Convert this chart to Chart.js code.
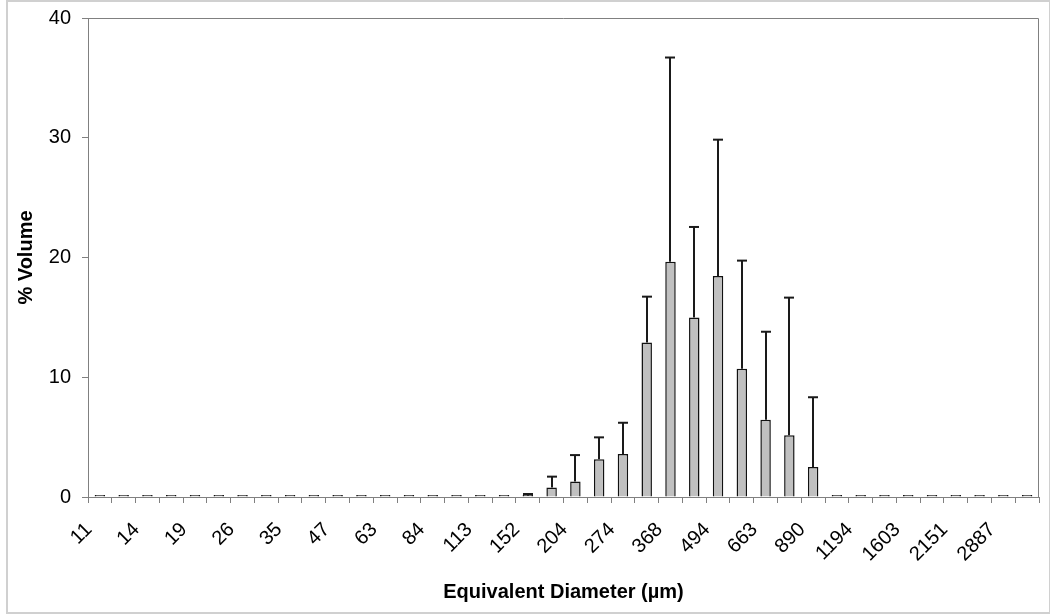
<!DOCTYPE html>
<html>
<head>
<meta charset="utf-8">
<script src="https://cdn.jsdelivr.net/npm/chart.js@4"></script>
<style>
  html, body { margin: 0; padding: 0; background: #fff; }
  #wrap { position: relative; width: 1050px; height: 615px; }
  #frame { position: absolute; left: 6px; top: 0; width: 1041px; height: 610px; border: 2px solid #d0d0d0; }
  canvas { position: absolute; left: 0; top: 0; }
</style>
</head>
<body>
<div id="wrap">
  <div id="frame"></div>
  <canvas id="sizeChart" width="1050" height="615"></canvas>
</div>
<script>
// size classes (µm) - only every other one is labelled on the axis
const diameters = ["11", "12", "14", "16", "19", "22", "26", "30", "35", "41",
  "47", "54", "63", "73", "84", "97", "113", "131", "152", "176",
  "204", "236", "274", "318", "368", "426", "494", "572", "663", "768",
  "890", "1031", "1194", "1383", "1603", "1857", "2151", "2492", "2887", "3343"];

// mean % volume per class
const volume = [0, 0, 0, 0, 0, 0, 0, 0, 0, 0,
  0, 0, 0, 0, 0, 0, 0, 0, 0.1, 0.8,
  1.3, 3.15, 3.6, 12.9, 19.65, 15.0, 18.45, 10.7, 6.45, 5.15,
  2.5, 0, 0, 0, 0, 0, 0, 0, 0, 0];

// upper error (std dev)
const volumeErr = [0, 0, 0, 0, 0, 0, 0, 0, 0, 0,
  0, 0, 0, 0, 0, 0, 0, 0, 0.15, 0.9,
  2.2, 1.83, 2.6, 3.83, 17.05, 7.55, 11.39, 9.04, 7.35, 11.5,
  5.83, 0, 0, 0, 0, 0, 0, 0, 0, 0];

const yTicks = [0, 10, 20, 30, 40];

const FONT = "'Liberation Sans', Arial, sans-serif";
const AXIS_GREY = "#808080";

// draws the top / right border of the plot area
const plotBorder = {
  id: "plotBorder",
  beforeDatasetsDraw(chart) {
    const { ctx, chartArea } = chart;
    ctx.save();
    ctx.strokeStyle = AXIS_GREY;
    ctx.lineWidth = 1;
    ctx.beginPath();
    ctx.moveTo(chartArea.left, chartArea.top + 0.5);
    ctx.lineTo(chartArea.right - 0.5, chartArea.top + 0.5);
    ctx.lineTo(chartArea.right - 0.5, chartArea.bottom);
    ctx.stroke();
    ctx.restore();
  },
};

// upper error bars with caps
const errorBars = {
  id: "errorBars",
  afterDatasetsDraw(chart) {
    const { ctx } = chart;
    const yScale = chart.scales.y;
    const meta = chart.getDatasetMeta(0);
    ctx.save();
    ctx.strokeStyle = "#1a1a1a";
    meta.data.forEach((bar, i) => {
      const v = volume[i];
      const e = volumeErr[i];
      if (!e) return;
      const x = Math.round(bar.x);
      const yTop = yScale.getPixelForValue(v);
      const yErr = yScale.getPixelForValue(v + e);
      ctx.lineWidth = 2;
      ctx.beginPath();
      ctx.moveTo(x, yTop);
      ctx.lineTo(x, yErr);
      ctx.stroke();
      ctx.beginPath();
      ctx.moveTo(x - 5, yErr);
      ctx.lineTo(x + 5, yErr);
      ctx.stroke();
    });
    ctx.restore();
  },
};

const ctx = document.getElementById("sizeChart").getContext("2d");
new Chart(ctx, {
  type: "bar",
  data: {
    labels: diameters,
    datasets: [
      {
        label: "% Volume",
        data: volume,
        backgroundColor: "#c0c0c0",
        borderColor: "#111",
        borderWidth: 1.5,
        barPercentage: 0.44,
        categoryPercentage: 1.0,
        minBarLength: 2,
      },
    ],
  },
  options: {
    responsive: false,
    animation: false,
    layout: { padding: { left: 0, top: 18, right: 11, bottom: 0 } },
    plugins: {
      legend: { display: false },
      tooltip: { enabled: false },
    },
    scales: {
      x: {
        afterFit(scale) {
          scale.height = 118;
          scale.paddingLeft = 0;
          scale.paddingRight = 0;
        },
        grid: {
          offset: true,
          drawOnChartArea: false,
          tickLength: 6,
          color: AXIS_GREY,
        },
        border: { color: AXIS_GREY, width: 1 },
        ticks: {
          autoSkip: false,
          maxRotation: 45,
          minRotation: 45,
          padding: 15,
          labelOffset: -11,
          color: "#000",
          font: { family: FONT, size: 20 },
          callback(value, index) {
            return index % 2 === 0 ? diameters[index] : "";
          },
        },
        title: {
          display: true,
          text: "Equivalent Diameter (µm)",
          color: "#000",
          font: { family: FONT, size: 20, weight: "bold" },
          padding: { top: 0, bottom: 11 },
        },
      },
      y: {
        min: 0,
        max: 40,
        afterFit(scale) {
          scale.width = 88;
          scale.paddingTop = 0;
          scale.paddingBottom = 0;
        },
        afterBuildTicks(scale) {
          scale.ticks = yTicks.map((v) => ({ value: v }));
        },
        grid: {
          drawOnChartArea: false,
          tickLength: 6,
          color: AXIS_GREY,
        },
        border: { color: AXIS_GREY, width: 1 },
        ticks: {
          padding: 11,
          color: "#000",
          font: { family: FONT, size: 20 },
        },
        title: {
          display: true,
          text: "% Volume",
          color: "#000",
          font: { family: FONT, size: 20, weight: "bold" },
          padding: { top: 14, bottom: 0 },
        },
      },
    },
  },
  plugins: [plotBorder, errorBars],
});
</script>
</body>
</html>
